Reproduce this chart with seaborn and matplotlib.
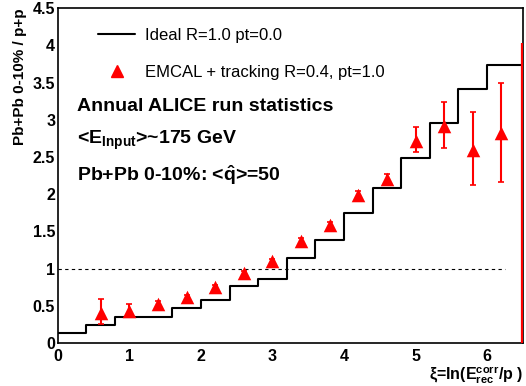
import numpy as np
import matplotlib
matplotlib.use('Agg')
import matplotlib.pyplot as plt
import seaborn as sns
from matplotlib.lines import Line2D
from matplotlib.ticker import MultipleLocator, FuncFormatter

# Ideal jets: step histogram, bins of 0.4 in xi
bin_edges = [0.0, 0.4, 0.8, 1.2, 1.6, 2.0, 2.4, 2.8, 3.2, 3.6, 4.0, 4.4, 4.8, 5.2, 5.6, 6.0, 6.4, 6.8]
ideal_ratio = [0.14, 0.25, 0.345, 0.35, 0.47, 0.58, 0.77, 0.855, 1.145, 1.39, 1.75, 2.08, 2.49, 2.96, 3.42, 3.74, 3.74]

# EMCAL + tracking points
xi_points = [0.6, 1.0, 1.4, 1.8, 2.2, 2.6, 3.0, 3.4, 3.8, 4.2, 4.6, 5.0, 5.4, 5.8, 6.2]
emcal_ratio = [0.41, 0.43, 0.53, 0.62, 0.75, 0.94, 1.10, 1.37, 1.59, 1.99, 2.20, 2.72, 2.91, 2.59, 2.82]
err_up = [0.18, 0.09, 0.03, 0.03, 0.03, 0.03, 0.03, 0.04, 0.04, 0.05, 0.07, 0.18, 0.33, 0.51, 0.67]
err_down = [0.15, 0.07, 0.03, 0.03, 0.03, 0.03, 0.03, 0.04, 0.04, 0.05, 0.07, 0.15, 0.29, 0.46, 0.65]

# last bin sits on the right edge, only its error bar shows
edge_x = [6.49]
edge_y = [2.0]
edge_err_up = [2.03]
edge_err_down = [2.1]

sns.set_style('white')
plt.rcParams['font.family'] = ['Liberation Sans', 'DejaVu Sans']
plt.rcParams['text.color'] = 'black'
plt.rcParams['axes.labelcolor'] = 'black'
plt.rcParams['xtick.color'] = 'black'
plt.rcParams['ytick.color'] = 'black'
plt.rcParams['mathtext.fontset'] = 'custom'
plt.rcParams['mathtext.rm'] = 'Liberation Sans'
plt.rcParams['mathtext.bf'] = 'Liberation Sans:bold'
plt.rcParams['mathtext.it'] = 'Liberation Sans:italic'

fig = plt.figure(figsize=(5.26, 3.86), dpi=100)
ax = fig.add_axes([0.110, 0.111, 0.884, 0.868])

# step line for the ideal case (last value repeated to close the last bin)
step_y = ideal_ratio + [ideal_ratio[-1]]
sns.lineplot(x=bin_edges, y=step_y, drawstyle='steps-post', color='black',
             linewidth=1.5, ax=ax, estimator=None, sort=False)

# reference line at 1
ax.plot([0, 6.25], [1, 1], color='black', linestyle=(0, (3, 3)), linewidth=0.8)

# error bars + triangles
ax.errorbar(xi_points, emcal_ratio, yerr=[err_down, err_up], fmt='none',
            ecolor='red', elinewidth=1.5, capsize=2, capthick=1.2)
ax.errorbar(edge_x, edge_y, yerr=[edge_err_down, edge_err_up], fmt='none',
            ecolor='red', elinewidth=1.6, capsize=0, zorder=10)
sns.scatterplot(x=xi_points, y=emcal_ratio, marker='^', color='red',
                s=95, edgecolor='red', linewidth=0, ax=ax, zorder=5)

ax.set_xlim(0, 6.5)
ax.set_ylim(0, 4.5)

ax.xaxis.set_major_locator(MultipleLocator(1))
ax.xaxis.set_minor_locator(MultipleLocator(0.2))
ax.yaxis.set_major_locator(MultipleLocator(0.5))
ax.yaxis.set_minor_locator(MultipleLocator(0.1))
ax.yaxis.set_major_formatter(FuncFormatter(lambda v, p: f'{v:g}'))
ax.tick_params(axis='both', which='major', direction='in', length=11, width=1.2,
               labelsize=11.5, top=False, right=False)
ax.tick_params(axis='both', which='minor', direction='in', length=6, width=1.0,
               top=False, right=False)
ax.tick_params(axis='x', which='major', length=9, pad=4)
ax.tick_params(axis='y', which='major', pad=2)
for lab in ax.get_xticklabels() + ax.get_yticklabels():
    lab.set_fontweight('bold')
for sp in ax.spines.values():
    sp.set_linewidth(1.2)
    sp.set_color('black')

ax.set_xlabel(r'ξ=ln($\mathbf{E}^{\mathbf{corr}}_{\mathbf{rec}}$/p )', fontsize=11.5,
              fontweight='bold', loc='right', labelpad=0)
ax.set_ylabel('Pb+Pb 0-10% / p+p', fontsize=11, fontweight='bold', loc='top', labelpad=4)

handles = [Line2D([0], [0], color='black', linewidth=1.5),
           Line2D([0], [0], color='red', marker='^', linestyle='none', markersize=9)]
ax.legend(handles, ['Ideal R=1.0 pt=0.0', 'EMCAL + tracking R=0.4, pt=1.0'],
          loc='upper left', bbox_to_anchor=(0.055, 0.985), frameon=False,
          fontsize=12, handlelength=2.2, handletextpad=0.6, labelspacing=1.3)

ax.text(0.041, 0.705, 'Annual ALICE run statistics', transform=ax.transAxes,
        fontsize=14, fontweight='bold', va='center')
ax.text(0.041, 0.605, r'<$\mathbf{E}_{\mathbf{Input}}$>~175 GeV', transform=ax.transAxes,
        fontsize=14, fontweight='bold', va='center')
ax.text(0.041, 0.5, r'Pb+Pb 0-10%: <$\mathbf{\hat{q}}$>=50', transform=ax.transAxes,
        fontsize=14, fontweight='bold', va='center')

fig.savefig('out.png', dpi=100)
